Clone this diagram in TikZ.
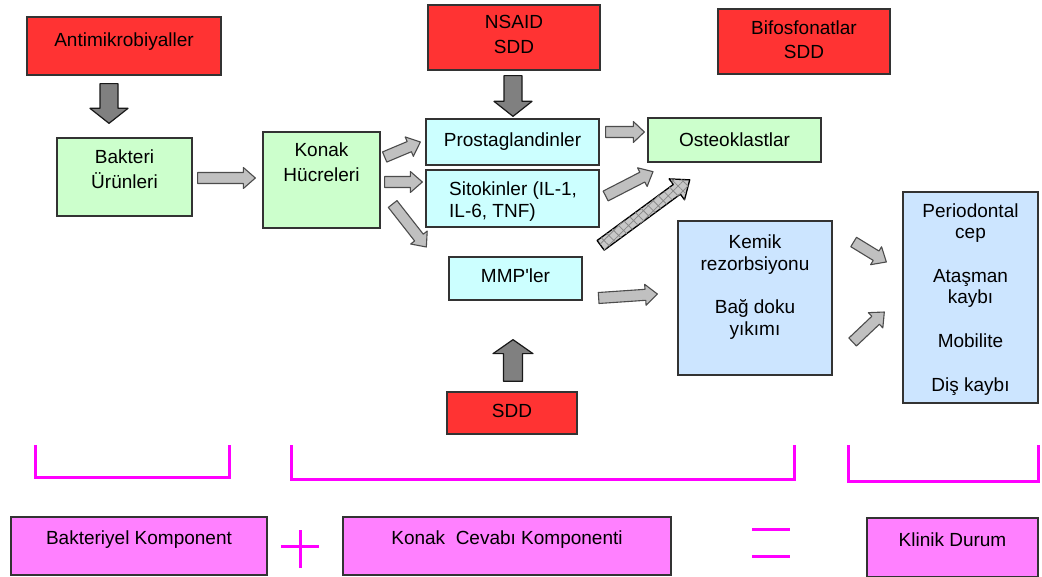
\documentclass[tikz,border=0pt]{standalone}
\usepackage{fontspec}
\setmainfont{Liberation Sans}
\usetikzlibrary{calc,patterns.meta}
\definecolor{cRed}{HTML}{FF3333}
\definecolor{cGreen}{HTML}{CCFFCC}
\definecolor{cCyan}{HTML}{CCFFFF}
\definecolor{cBlue}{HTML}{CCE5FF}
\definecolor{cMag}{HTML}{FF80FF}
\definecolor{cPink}{HTML}{FF00FF}
\definecolor{cEdge}{HTML}{333333}
\definecolor{cLight}{HTML}{C0C0C0}
\definecolor{cDark}{HTML}{808080}
\definecolor{cHatch}{HTML}{C8C8C8}
\definecolor{cHatchLine}{HTML}{8A8A8A}
% #1 style, #2 from, #3 to, #4 half shaft, #5 half head, #6 head length
\newcommand\blockarrow[6]{%
  \path[#1] let \p1=#2, \p2=#3,
    \n1={atan2(\y2-\y1,\x2-\x1)}, \n2={veclen(\x2-\x1,\y2-\y1)} in
    [shift={(\p1)}, rotate=\n1]
    (0pt,-#4) -- ({\n2*1pt-#6},-#4) -- ({\n2*1pt-#6},-#5) -- ({\n2*1pt},0pt)
    -- ({\n2*1pt-#6},#5) -- ({\n2*1pt-#6},#4) -- (0pt,#4) -- cycle;}
\begin{document}
\begin{tikzpicture}[x=1pt,y=-1pt,
  box/.style={draw=cEdge, line width=1.3pt, rectangle, inner sep=0pt},
  txt/.style={anchor=north, inner sep=0pt, align=center, font=\fontsize{19}{22}\selectfont},
  lightarrow/.style={fill=cLight, draw=black!70, line width=1.1pt, line join=round},
  darkarrow/.style={fill=cDark, draw=black!90, line width=1.2pt, line join=round},
  hatcharrow/.style={fill=cHatch, postaction={pattern={Hatch[angle=45,distance=7pt,line width=0.8pt]}, pattern color=cHatchLine}, draw=black, line width=1.3pt, line join=round},
  brace/.style={draw=cPink, line width=3pt},
]
\fill[white] (0,0) rectangle (1042,577);
\useasboundingbox (0,0) rectangle (1042,577);

% boxes
\node[box, fill=cRed, minimum width=194pt, minimum height=58pt] (anti) at (124,46) {};
\node[box, fill=cRed, minimum width=172pt, minimum height=65pt] (nsaid) at (514,37.5) {};
\node[box, fill=cRed, minimum width=172pt, minimum height=65pt] (bifo) at (804,41.5) {};
\node[box, fill=cGreen, minimum width=135pt, minimum height=78pt] (bak) at (124.5,177) {};
\node[box, fill=cGreen, minimum width=117pt, minimum height=96pt] (kon) at (321.5,180) {};
\node[box, fill=cCyan, minimum width=173pt, minimum height=46pt] (pro) at (512.5,142) {};
\node[box, fill=cCyan, minimum width=173pt, minimum height=57pt] (sit) at (512.5,198.5) {};
\node[box, fill=cCyan, minimum width=133pt, minimum height=43pt] (mmp) at (515.5,278.5) {};
\node[box, fill=cGreen, minimum width=173pt, minimum height=44pt] (ost) at (734.5,140) {};
\node[box, fill=cBlue, minimum width=154pt, minimum height=154pt] (kem) at (755,298) {};
\node[box, fill=cBlue, minimum width=135pt, minimum height=211pt] (per) at (970.5,297.5) {};
\node[box, fill=cRed, minimum width=130pt, minimum height=42pt] (sdd) at (512,413) {};
\node[box, fill=cMag, minimum width=256pt, minimum height=58pt] (bkomp) at (139,546) {};
\node[box, fill=cMag, minimum width=328pt, minimum height=58pt] (kcev) at (507,546) {};
\node[box, fill=cMag, minimum width=171pt, minimum height=59pt] (klin) at (952.5,547.5) {};

% texts
\node[txt] (antit) at (124,33) {Antimikrobiyaller};
\node[txt, font=\fontsize{19}{25}\selectfont] (nsaidt) at (514,15) {NSAID\\SDD};
\node[txt, font=\fontsize{19}{24}\selectfont] (bifot) at (804,21) {Bifosfonatlar\\SDD};
\node[txt, font=\fontsize{19}{25}\selectfont] (bakt) at (124.5,150) {Bakteri\\Ürünleri};
\node[txt, font=\fontsize{19}{25}\selectfont] (kont) at (321.5,143) {Konak\\Hücreleri};
\node[txt] (prot) at (512.5,133) {Prostaglandinler};
\node[txt, anchor=north west, align=left] (sitt) at (449,182) {Sitokinler (IL-1,\\IL-6, TNF)};
\node[txt] (mmpt) at (515.5,269) {MMP\textquotesingle ler};
\node[txt] (ostt) at (734.5,133) {Osteoklastlar};
\node[txt, font=\fontsize{19}{21.5}\selectfont] (kemt) at (755,235) {Kemik\\rezorbsiyonu\\[22pt]Bağ doku\\yıkımı};
\node[txt, font=\fontsize{19}{21}\selectfont] (pert) at (970.5,204) {Periodontal\\cep\\[23pt]Ataşman\\kaybı\\[23pt]Mobilite\\[23pt]Diş kaybı};
\node[txt] (sddt) at (512,404) {SDD};
\node[txt] (bkompt) at (139,531) {Bakteriyel Komponent};
\node[txt] (kcevt) at (507,531) {Konak\ \ Cevabı Komponenti};
\node[txt] (klint) at (952.5,533) {Klinik Durum};

% dark block arrows
\blockarrow{darkarrow}{($(anti.south)+(-15,8)$)}{($(bak.north)+(-15.5,-14)$)}{9pt}{19pt}{15pt}
\blockarrow{darkarrow}{($(nsaid.south)+(-1,5)$)}{($(pro.north)+(0.5,-2)$)}{9pt}{19pt}{15pt}
\blockarrow{darkarrow}{($(sdd.north)+(1,-10)$)}{($(mmp.south)+(-2.5,39)$)}{9.5pt}{20pt}{14pt}

% light block arrows
\blockarrow{lightarrow}{($(bak.east)+(5,1)$)}{($(kon.west)+(-7,-2)$)}{5.5pt}{10.5pt}{12pt}
\blockarrow{lightarrow}{($(kon.east)+(4,-23)$)}{($(pro.west)+(-5,0)$)}{5.5pt}{10.5pt}{12pt}
\blockarrow{lightarrow}{($(kon.east)+(4,2)$)}{($(sit.west)+(-3,-16.5)$)}{5.5pt}{10.5pt}{12pt}
\blockarrow{lightarrow}{($(kon.east)+(12,24)$)}{($(mmp.west)+(-22,-31.5)$)}{5.5pt}{10.5pt}{12pt}
\blockarrow{lightarrow}{($(pro.east)+(6,-10)$)}{($(ost.west)+(-3,-8)$)}{5.5pt}{10.5pt}{11pt}
\blockarrow{lightarrow}{($(sit.east)+(6,-2.5)$)}{($(ost.south)+(-81.5,9)$)}{5.5pt}{10.5pt}{12pt}
\blockarrow{lightarrow}{($(mmp.east)+(16,19.5)$)}{($(kem.west)+(-20,-4)$)}{5.5pt}{10.5pt}{12pt}
\blockarrow{lightarrow}{($(kem.east)+(21,-56)$)}{($(per.west)+(-16,-35.5)$)}{5.5pt}{10.5pt}{12pt}
\blockarrow{lightarrow}{($(kem.east)+(20,44)$)}{($(per.west)+(-18,14.5)$)}{5.5pt}{10.5pt}{12pt}

% hatched arrow
\blockarrow{hatcharrow}{($(mmp.north east)+(18,-11)$)}{($(ost.south)+(-44.5,17)$)}{6pt}{13pt}{16pt}

% brackets
\draw[brace] (35,445) -- (35,477) -- (229,477) -- (229,445);
\draw[brace] (291,445) -- (291,479) -- (794,479) -- (794,445);
\draw[brace] (848,445) -- (848,481) -- (1038,481) -- (1038,445);

% plus and equals
\draw[brace] (281,546) -- (319,546) (300,530) -- (300,568);
\draw[brace] (752,529) -- (790,529) (752,556) -- (790,556);
\end{tikzpicture}
\end{document}
